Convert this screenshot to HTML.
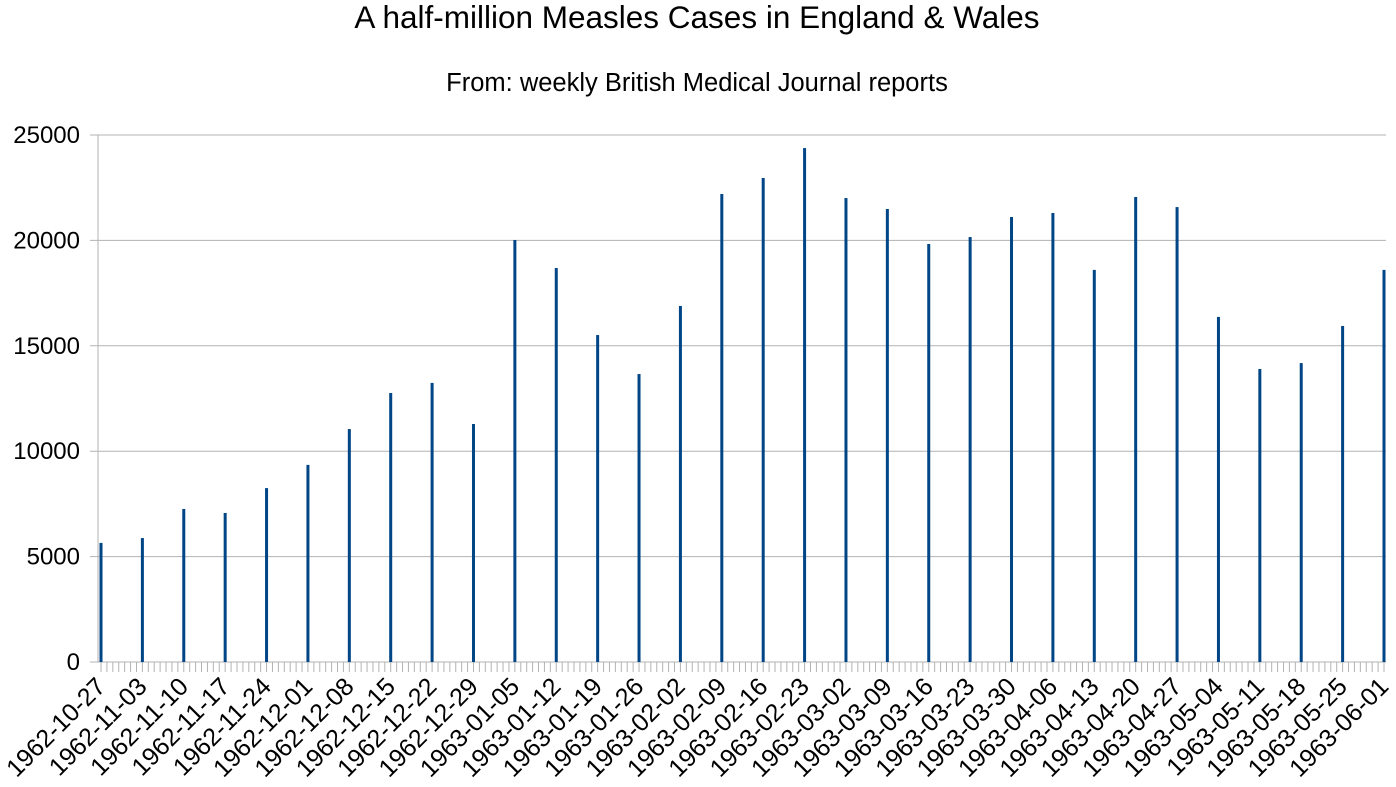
<!DOCTYPE html>
<html><head><meta charset="utf-8"><style>
html,body{margin:0;padding:0;background:#fff;}
svg{display:block;font-family:"Liberation Sans",sans-serif;}
</style></head><body>
<svg id="c" width="1396" height="787">
<text x="697" y="28" text-anchor="middle" font-size="31.5">A half-million Measles Cases in England &amp; Wales</text>
<text x="697" y="91" text-anchor="middle" font-size="25.5">From: weekly British Medical Journal reports</text>
<g id="grid"></g><g id="bars"></g><g id="axes"></g>
</svg>
<script>
const categories=["1962-10-27","1962-11-03","1962-11-10","1962-11-17","1962-11-24","1962-12-01","1962-12-08","1962-12-15","1962-12-22","1962-12-29","1963-01-05","1963-01-12","1963-01-19","1963-01-26","1963-02-02","1963-02-09","1963-02-16","1963-02-23","1963-03-02","1963-03-09","1963-03-16","1963-03-23","1963-03-30","1963-04-06","1963-04-13","1963-04-20","1963-04-27","1963-05-04","1963-05-11","1963-05-18","1963-05-25","1963-06-01"];
const cases=[5650,5880,7260,7070,8250,9350,11050,12760,13240,11290,20020,18690,15510,13660,16890,22200,22960,24380,22010,21490,19830,20160,21110,21300,18600,22060,21580,16370,13900,14180,15940,18600];
const yTicks=[0,5000,10000,15000,20000,25000];
const NS="http://www.w3.org/2000/svg";
const L=98,R=1386,T=135,B=662;
const totalDays=217;
const x0=101,x1=1384;
function xDay(d){return x0+d*(x1-x0)/totalDays;}
function y(v){return B-(v/25000)*(B-T);}
function mk(tag,attrs,parent,text){const e=document.createElementNS(NS,tag);for(const k in attrs)e.setAttribute(k,attrs[k]);if(text!==undefined)e.textContent=text;parent.appendChild(e);return e;}
const grid=document.getElementById('grid'),bars=document.getElementById('bars'),axes=document.getElementById('axes');
yTicks.forEach(v=>{
 const l=mk('line',{x1:L-8,x2:R,y1:y(v),y2:y(v),stroke:'#b3b3b3','stroke-width':1},grid);
 
 
 const t=mk('text',{x:80,y:y(v)+8,'text-anchor':'end','font-size':24},axes,String(v));
 
 
});
mk('line',{x1:L,x2:L,y1:T,y2:B,stroke:'#b3b3b3'},axes);
for(let d=0;d<=totalDays;d++){
 const x=xDay(d);
 mk('line',{x1:x,x2:x,y1:B,y2:B+10,stroke:'#b3b3b3'},axes);
}
categories.forEach((c,i)=>{
 const x=xDay(i*7);
 const b=mk('rect',{x:x-1.5,y:y(cases[i]),width:3,height:B-y(cases[i]),fill:'#004586'},bars);
 
 
 const t=mk('text',{x:x+6,y:688,'text-anchor':'end','font-size':25,transform:`rotate(-45 ${x+6} 688)`},axes,c);
 
 
});
</script>
</body></html>
